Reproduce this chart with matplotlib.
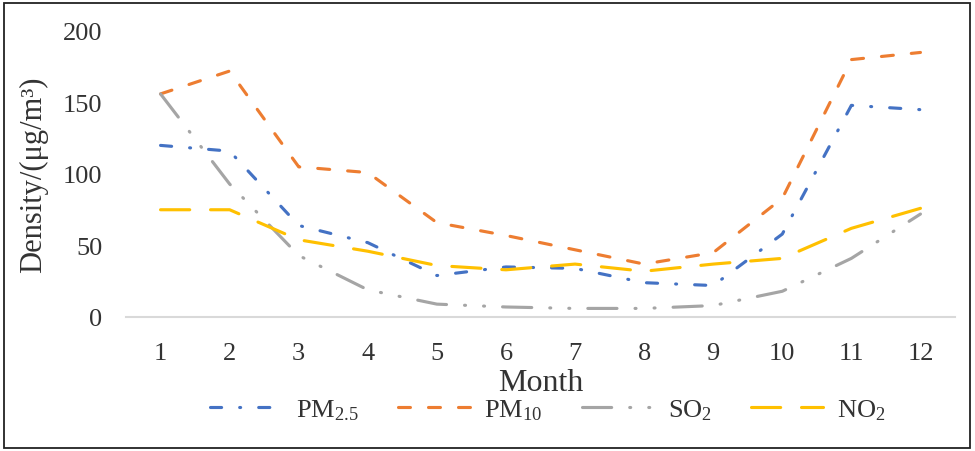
import matplotlib
matplotlib.use("Agg")
import matplotlib.pyplot as plt
from matplotlib.patches import Rectangle

months = [1, 2, 3, 4, 5, 6, 7, 8, 9, 10, 11, 12]
pm25 = [120, 116, 64, 52, 29, 35, 34, 24, 22, 58, 148, 145]
pm10 = [156, 172, 105, 101, 66, 57, 47, 37, 45, 83, 180, 185]
so2 = [156, 93, 43, 19, 9, 7, 6, 6, 8, 18, 41, 72]
no2 = [75, 75, 54, 46, 36, 33, 37, 32, 37, 41, 62, 76]
yticks = [0, 50, 100, 150, 200]

plt.rcParams['font.family'] = ['Liberation Serif', 'DejaVu Serif']
plt.rcParams['mathtext.fontset'] = 'custom'
plt.rcParams['mathtext.rm'] = 'Liberation Serif'
plt.rcParams['mathtext.it'] = 'Liberation Serif'
plt.rcParams['lines.scale_dashes'] = False

W, H = 975, 452
fig = plt.figure(figsize=(W / 100, H / 100), dpi=100)
ax = fig.add_axes([126 / W, 1 - 318 / H, (955 - 126) / W, (318 - 32) / H])

lw = 2.25
series = [
    (pm25, '#4472C4', (0, (8, 13, 0.7, 13)), r'PM$_{\mathregular{2.5}}$'),
    (pm10, '#ED7D31', (0, (8.6, 13)), r'PM$_{\mathregular{10}}$'),
    (so2, '#A5A5A5', (0, (21, 13, 0.7, 13, 0.7, 13)), r'SO$_{\mathregular{2}}$'),
    (no2, '#FFC000', (0, (21, 15)), r'NO$_{\mathregular{2}}$'),
]
for vals, col, ls, lab in series:
    ax.plot(months, vals, color=col, lw=lw, linestyle=ls,
            dash_capstyle='round', solid_capstyle='round', label=lab)

ax.set_xlim(0.5, 12.5)
ax.set_ylim(0, 200)
ax.set_xticks(months)
ax.set_xticklabels([str(m) for m in months])
ax.set_yticks(yticks)
ax.tick_params(axis='both', length=0, labelsize=19, colors='#333333')
ax.tick_params(axis='y', pad=17)
ax.tick_params(axis='x', pad=18)
for s in ['top', 'right', 'left']:
    ax.spines[s].set_visible(False)
ax.spines['bottom'].set_color('#D9D9D9')
ax.spines['bottom'].set_linewidth(1.5)

ax.set_xlabel('Month', fontsize=23, color='#333333', labelpad=3)
ax.set_ylabel('Density/(μg/m³)', fontsize=22, color='#333333', labelpad=11)

leg = fig.legend(loc='center', bbox_to_anchor=(548 / W, 1 - 411 / H), ncol=4,
                 frameon=False, fontsize=19, handlelength=2.7, handletextpad=0.55,
                 columnspacing=1.5, labelcolor='#333333')

fig.patches.append(Rectangle((4 / W, 1 - 449 / H), (970 - 4) / W, (449 - 4) / H,
                             transform=fig.transFigure, fill=False,
                             edgecolor='#222222', lw=1.3))

fig.savefig('out.png', dpi=100)
